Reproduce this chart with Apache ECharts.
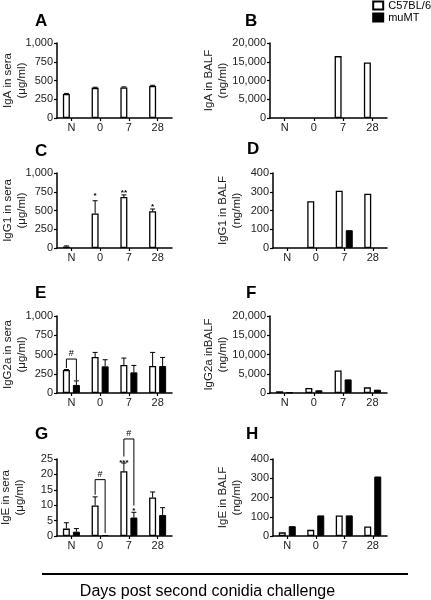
<!DOCTYPE html>
<html><head><meta charset="utf-8">
<script src="https://cdn.jsdelivr.net/npm/echarts/dist/echarts.min.js"></script>
<style>html,body{margin:0;padding:0;background:#fff}#c{width:431px;height:600px}</style>
</head><body><div id="c"></div><script>
const categories = ['N', '0', '7', '28'];
const seriesNames = ['C57BL/6', 'muMT'];
const xTitle = 'Days post second conidia challenge';

// A: IgA in sera
const igaSeraWT = [320, 402, 407, 428];
const igaSeraWTErr = [8, 8, 8, 8];
const igaSeraKO = [null, null, null, null];
// B: IgA in BALF
const igaBalfWT = [null, null, 16500, 14800];
const igaBalfKO = [null, null, null, null];
// C: IgG1 in sera
const igg1SeraWT = [18, 460, 680, 490];
const igg1SeraWTErr = [10, 170, 28, 30];
const igg1SeraKO = [null, null, null, null];
const igg1SeraStars = [[1, -1, 700, '*'], [2, -1, 730, '**'], [3, -1, 545, '*']];
// D: IgG1 in BALF
const igg1BalfWT = [null, 250, 305, 290];
const igg1BalfKO = [null, null, 95, null];
// E: IgG2a in sera
const igg2aSeraWT = [300, 467, 363, 350];
const igg2aSeraWTErr = [5, 60, 91, 177];
const igg2aSeraKO = [105, 346, 268, 350];
const igg2aSeraKOErr = [52, 86, 90, 112];
const igg2aSeraBrackets = [[0, 325, 165, 441, '#']];
// F: IgG2a in BALF
const igg2aBalfWT = [450, 1300, 5850, 1470];
const igg2aBalfKO = [150, 700, 3530, 870];
// G: IgE in sera
const igeSeraWT = [2.4, 9.9, 21.0, 12.5];
const igeSeraWTErr = [1.9, 2.8, 2.7, 1.8];
const igeSeraKO = [1.4, 0.3, 6.0, 6.8];
const igeSeraKOErr = [1.0, 0, 1.7, 2.4];
const igeSeraBrackets = [[1, 13.4, 1.0, 18.3, '#'], [2, 25.8, 9.9, 31.5, '#']];
const igeSeraStars = [[2, -1, 23.8, '***'], [2, 1, 8.3, '*']];
// H: IgE in BALF
const igeBalfWT = [19, 32, 107, 49];
const igeBalfKO = [51, 107, 107, 309];

const panels = [
  {label: 'A', yName: 'IgA in sera\n(μg/ml)', max: 1000, interval: 250, wt: igaSeraWT, wtErr: igaSeraWTErr, ko: igaSeraKO},
  {label: 'B', yName: 'IgA in BALF\n(ng/ml)', max: 20000, interval: 5000, wt: igaBalfWT, ko: igaBalfKO},
  {label: 'C', yName: 'IgG1 in sera\n(μg/ml)', max: 1000, interval: 250, wt: igg1SeraWT, wtErr: igg1SeraWTErr, ko: igg1SeraKO, stars: igg1SeraStars},
  {label: 'D', yName: 'IgG1 in BALF\n(ng/ml)', max: 400, interval: 100, wt: igg1BalfWT, ko: igg1BalfKO},
  {label: 'E', yName: 'IgG2a in sera\n(μg/ml)', max: 1000, interval: 250, wt: igg2aSeraWT, wtErr: igg2aSeraWTErr, ko: igg2aSeraKO, koErr: igg2aSeraKOErr, brackets: igg2aSeraBrackets},
  {label: 'F', yName: 'IgG2a inBALF\n(ng/ml)', max: 20000, interval: 5000, wt: igg2aBalfWT, ko: igg2aBalfKO},
  {label: 'G', yName: 'IgE in sera\n(μg/ml)', max: 25, interval: 5, wt: igeSeraWT, wtErr: igeSeraWTErr, ko: igeSeraKO, koErr: igeSeraKOErr, brackets: igeSeraBrackets, stars: igeSeraStars},
  {label: 'H', yName: 'IgE in BALF\n(ng/ml)', max: 400, interval: 100, wt: igeBalfWT, ko: igeBalfKO}
];

const layout = [
  {left: 57, top: 43, width: 115, height: 75, gap: 28, tx: 35, ty: 21},
  {left: 270, top: 43, width: 117, height: 75, gap: 40, tx: 245, ty: 21},
  {left: 57, top: 173, width: 115, height: 75, gap: 28, tx: 35, ty: 151},
  {left: 273, top: 173, width: 114, height: 75, gap: 29, tx: 247, ty: 149},
  {left: 57, top: 316, width: 115, height: 77, gap: 28, tx: 35, ty: 293},
  {left: 270, top: 316, width: 117, height: 77, gap: 40, tx: 246, ty: 293},
  {left: 57, top: 459, width: 115, height: 77, gap: 30, tx: 35, ty: 434},
  {left: 273, top: 459, width: 114, height: 77, gap: 29, tx: 246, ty: 434}
];

const FONT = '"Liberation Sans", Arial, Helvetica, sans-serif';
const BAR_OFF = 5;

const grids = [], xAxes = [], yAxes = [], series = [], graphics = [];

function errRender(params, api) {
  const c = api.value(0), v = api.value(1), e = api.value(2), side = api.value(3);
  const p0 = api.coord([c, v]);
  const p1 = api.coord([c, v + e]);
  const x = p0[0] + side * BAR_OFF;
  return {type: 'group', children: [
    {type: 'line', shape: {x1: x, y1: p0[1], x2: x, y2: p1[1]}, style: {stroke: '#000', lineWidth: 1}},
    {type: 'line', shape: {x1: x - 2.5, y1: p1[1], x2: x + 2.5, y2: p1[1]}, style: {stroke: '#000', lineWidth: 1}}
  ]};
}

panels.forEach((p, i) => {
  const L = layout[i];
  grids.push({left: L.left, top: L.top, width: L.width, height: L.height, containLabel: false, outerBoundsMode: 'none'});
  xAxes.push({
    type: 'category', gridIndex: i, data: categories,
    axisLine: {lineStyle: {color: '#000', width: 1.5}},
    axisTick: {show: true, alignWithLabel: true, length: 3, lineStyle: {color: '#000', width: 1.2}},
    axisLabel: {fontSize: 11, color: '#222', margin: 4, fontFamily: FONT},
    splitLine: {show: false}
  });
  yAxes.push({
    type: 'value', gridIndex: i, min: 0, max: p.max, interval: p.interval,
    axisLine: {show: true, lineStyle: {color: '#000', width: 1.5}},
    axisTick: {show: true, length: 3, lineStyle: {color: '#000', width: 1.2}},
    axisLabel: {fontSize: 11, color: '#222', margin: 4, fontFamily: FONT},
    splitLine: {show: false},
    name: p.yName, nameLocation: 'middle', nameRotate: 90, nameGap: L.gap,
    nameMoveOverlap: false,
    nameTextStyle: {fontSize: 11.5, lineHeight: 14, color: '#222', fontFamily: FONT, align: 'center'}
  });
  series.push({
    type: 'bar', name: seriesNames[0], xAxisIndex: i, yAxisIndex: i, data: p.wt,
    barWidth: 7, barGap: '43%',
    itemStyle: {color: '#fff', borderColor: '#000', borderWidth: 1.3},
    emphasis: {disabled: true}, silent: true
  });
  series.push({
    type: 'bar', name: seriesNames[1], xAxisIndex: i, yAxisIndex: i, data: p.ko,
    barWidth: 7, barGap: '43%',
    itemStyle: {color: '#000', borderColor: '#000', borderWidth: 1},
    emphasis: {disabled: true}, silent: true
  });
  const errData = [];
  if (p.wtErr) p.wtErr.forEach((e, k) => { if (p.wt[k] != null && e > 0) errData.push([k, p.wt[k], e, -1]); });
  if (p.koErr) p.koErr.forEach((e, k) => { if (p.ko[k] != null && e > 0) errData.push([k, p.ko[k], e, 1]); });
  if (errData.length) {
    series.push({type: 'custom', xAxisIndex: i, yAxisIndex: i, data: errData, renderItem: errRender, silent: true, z: 3});
  }
  if (p.brackets) {
    const br = p.brackets;
    series.push({
      type: 'custom', xAxisIndex: i, yAxisIndex: i, silent: true, z: 4, clip: false,
      data: br.map(b => [b[0], b[1], b[2], b[3]]),
      renderItem: (params, api) => {
        const c = api.value(0);
        const pl = api.coord([c, api.value(1)]);
        const pr = api.coord([c, api.value(2)]);
        const pt = api.coord([c, api.value(3)]);
        const xl = pl[0] - BAR_OFF, xr = pl[0] + BAR_OFF;
        return {type: 'group', children: [
          {type: 'polyline', shape: {points: [[xl, pl[1]], [xl, pt[1]], [xr, pt[1]], [xr, pr[1]]]}, style: {stroke: '#000', lineWidth: 1, fill: null}},
          {type: 'text', x: pl[0], y: pt[1] - 1, style: {text: br[params.dataIndex][4], font: '9px ' + FONT, fill: '#000', align: 'center', verticalAlign: 'bottom'}}
        ]};
      }
    });
  }
  if (p.stars) {
    const st = p.stars;
    series.push({
      type: 'custom', xAxisIndex: i, yAxisIndex: i, silent: true, z: 4, clip: false,
      data: st.map(s => [s[0], s[2], s[1]]),
      renderItem: (params, api) => {
        const pt = api.coord([api.value(0), api.value(1)]);
        return {type: 'text', x: pt[0] + api.value(2) * BAR_OFF, y: pt[1], style: {text: st[params.dataIndex][3], font: 'bold 8px ' + FONT, fill: '#000', align: 'center', verticalAlign: 'middle'}};
      }
    });
  }
  graphics.push({type: 'text', x: L.tx, y: L.ty, style: {text: p.label, font: 'bold 17px ' + FONT, fill: '#000', textAlign: 'left', textVerticalAlign: 'middle', align: 'left', verticalAlign: 'middle'}});
});

graphics.push({type: 'line', shape: {x1: 42, y1: 574, x2: 408, y2: 574}, style: {stroke: '#000', lineWidth: 2}});
graphics.push({type: 'text', x: 207.5, y: 592, style: {text: xTitle, font: '16px ' + FONT, fill: '#000', textAlign: 'center', textVerticalAlign: 'middle', align: 'center', verticalAlign: 'middle'}});

const chart = echarts.init(document.getElementById('c'), null, {renderer: 'canvas'});
chart.setOption({
  animation: false,
  backgroundColor: '#fff',
  grid: grids,
  xAxis: xAxes,
  yAxis: yAxes,
  series: series,
  legend: {
    data: seriesNames, orient: 'vertical', right: 0, top: 0, padding: 0,
    itemWidth: 10, itemHeight: 8, itemGap: 1, selectedMode: false,
    icon: 'rect',
    textStyle: {fontSize: 11, lineHeight: 8, color: '#000', fontFamily: FONT}
  },
  graphic: graphics
});
</script></body></html>
